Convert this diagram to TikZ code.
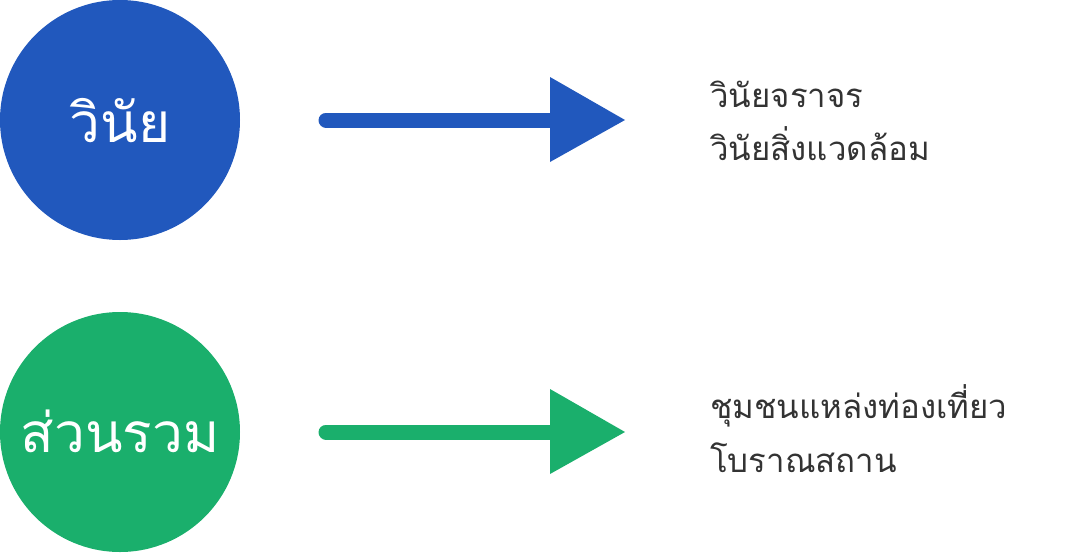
\documentclass[tikz,border=0pt]{standalone}
\usepackage{fontspec}
\newfontfamily\thaifont[Script=Thai]{Loma}
\definecolor{cblue}{HTML}{2158BD}
\definecolor{cgreen}{HTML}{1AAF6C}
\definecolor{ctext}{HTML}{333333}
\begin{document}
\begin{tikzpicture}[x=1pt,y=-1pt,
  circ/.style={circle,fill=#1,minimum size=240pt,inner sep=0pt},
  ctxt/.style={anchor=base,text=white,inner sep=0pt,font=\thaifont\fontsize{55}{60}\selectfont},
  shaft/.style={line width=15pt,line cap=round,#1},
  head/.style={fill=#1},
  label/.style={anchor=base west,inner sep=0pt,text=ctext,font=\thaifont\fontsize{33}{36}\selectfont}]
\useasboundingbox (0,0) rectangle (1071,552);
% top row
\node[circ=cblue] (c1) at (120,120) {};
\node[ctxt] (t1) at (120,142) {วินัย};
\coordinate (s1) at (326,120);
\coordinate (e1) at (552,120);
\draw[shaft=cblue] (s1) -- (e1);
\fill[head=cblue] (550,77) coordinate (h1a) -- (625,120) coordinate (h1b) -- (550,162) coordinate (h1c) -- cycle;
\node[label] (l1) at (710,107) {วินัยจราจร};
\node[label] (l2) at (710,160) {วินัยสิ่งแวดล้อม};
% bottom row
\node[circ=cgreen] (c2) at (120,432) {};
\node[ctxt] (t2) at (120,452) {ส่วนรวม};
\coordinate (s2) at (326,432);
\coordinate (e2) at (552,432);
\draw[shaft=cgreen] (s2) -- (e2);
\fill[head=cgreen] (550,389) coordinate (h2a) -- (625,432) coordinate (h2b) -- (550,474) coordinate (h2c) -- cycle;
\node[label] (l3) at (710,418) {ชุมชนแหล่งท่องเที่ยว};
\node[label] (l4) at (710,472) {โบราณสถาน};
\end{tikzpicture}
\end{document}
